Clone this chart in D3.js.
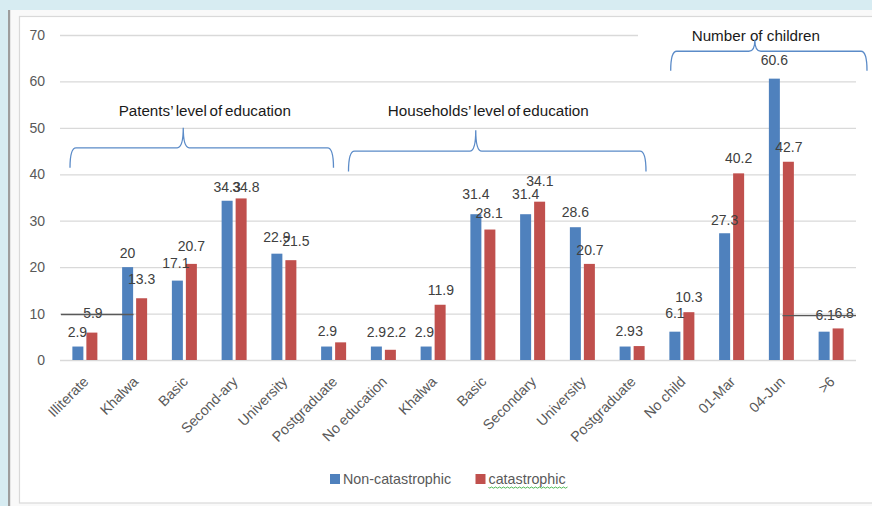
<!DOCTYPE html>
<html><head><meta charset="utf-8">
<script src="https://cdn.jsdelivr.net/npm/d3@7"></script>
<style>
html,body{margin:0;padding:0;background:#d7ecf2;}
svg{display:block;font-family:"Liberation Sans",Arial,sans-serif;}
</style></head>
<body>
<svg id="chart" width="872" height="506"></svg>
<script>
// ---- data ----
const categories = ["Illiterate","Khalwa","Basic","Second-ary","University","Postgraduate",
  "No education","Khalwa","Basic","Secondary","University","Postgraduate",
  "No child","01-Mar","04-Jun",">6"];
const seriesNames = ["Non-catastrophic","catastrophic"];
const nonCatastrophic = [2.9,20,17.1,34.3,22.9,2.9, 2.9,2.9,31.4,31.4,28.6,2.9, 6.1,27.3,60.6,6.1];
const catastrophic    = [5.9,13.3,20.7,34.8,21.5,3.8, 2.2,11.9,28.1,34.1,20.7,3, 10.3,40.2,42.7,6.8];
const nonCatLabels = ["2.9","20","17.1","34.3","22.9","2.9","2.9","2.9","31.4","31.4","28.6","2.9","6.1","27.3","60.6","6.1"];
const catLabels    = ["5.9","13.3","20.7","34.8","21.5","","2.2","11.9","28.1","34.1","20.7","3","10.3","40.2","42.7","6.8"];
const yTicks = [0,10,20,30,40,50,60,70];
const groupNames = ["Patents\u2019 level of education","Households\u2019 level of education","Number of children"];
const groupFrom = [0,6,12];
const groupTo = [5,11,15];

// ---- layout (label nudges, px) ----
const nonCatDx = [-0.5,0,-1.5,0,0,0.8,0,-1.7,0,0,0,0,0,0,0,1];
const nonCatDy = [14.5,14.5,18,14,17,15.5,14,14,20,20,15,15,18.5,13,18.5,17];
const catDx = [1,0,0,4.7,5,0,6,0.7,-0.8,0.3,0.6,0,0,0,0.5,6];
const catDy = [19.5,19.5,18,11.5,19.5,0,17.5,15,16.3,20.6,14,15,15.5,15,15,15.5];
const bracketLayout = [
  {x0:10, x1:-25, yb:41.4, yh:45.7, yt:50.0, tip:-18.5, tx:3, ty:53.8, ws:-1.5},
  {x0:-10, x1:-11, yb:40.6, yh:45.0, yt:49.5, tip:-21.5, tx:-9, ty:53.8, ws:-1.5},
  {x0:13.7, x1:11, yb:62.3, yh:66.5, yt:69.0, tip:-14, tx:-13, ty:69.8, ws:0}
];

const C = {blue:"#4f81bd", red:"#c0504d", grid:"#d9d9d9", tick:"#595959", label:"#404040", brace:"#5b8bc8"};

const svg = d3.select("#chart");
svg.append("rect").attr("x",0).attr("y",0).attr("width",872).attr("height",506).attr("fill","#d7ecf2");
svg.append("rect").attr("x",10).attr("y",10).attr("width",862).attr("height",496).attr("fill","#f9f9f9");
svg.append("rect").attr("x",8).attr("y",10).attr("width",2.2).attr("height",496).attr("fill","#9d9d9d");
svg.append("rect").attr("x",19.5).attr("y",16.5).attr("width",870).attr("height",486.5)
  .attr("fill","#ffffff").attr("stroke","#d9d9d9").attr("stroke-width",1.2);

const x = d3.scaleBand().domain(d3.range(categories.length)).range([60,856]);
const x1 = d3.scaleBand().domain(seriesNames).range([0,x.bandwidth()]).paddingInner(3/14).paddingOuter(0.884);
const y = d3.scaleLinear().domain([0,70]).range([360,35]);

const yAxis = d3.axisLeft(y).tickValues(yTicks).tickSize(-(856-60)).tickPadding(15);
const ga = svg.append("g").attr("transform","translate(60,0)").call(yAxis);
ga.select(".domain").remove();
ga.selectAll(".tick line").attr("stroke",C.grid).attr("stroke-width",1.3);
ga.selectAll(".tick text").attr("fill",C.tick).style("font-size","14px").style("font-family","Liberation Sans, Arial, sans-serif");

// white textbox of "Number of children" covering the top gridline
svg.append("rect").attr("x",x(groupFrom[2]) - 19).attr("y",26).attr("width",240).attr("height",16).attr("fill","#ffffff");

const series = [
  {name:seriesNames[0], vals:nonCatastrophic, labels:nonCatLabels, dx:nonCatDx, dy:nonCatDy, color:C.blue},
  {name:seriesNames[1], vals:catastrophic, labels:catLabels, dx:catDx, dy:catDy, color:C.red}
];

series.forEach(s=>{
  svg.append("g").selectAll("rect").data(s.vals).join("rect")
    .attr("x",(d,i)=>x(i)+x1(s.name))
    .attr("y",d=>y(d))
    .attr("width",x1.bandwidth())
    .attr("height",d=>y(0)-y(d))
    .attr("fill",s.color);
});

const gx = svg.append("g");
categories.forEach((c,i)=>{
  gx.append("text")
    .attr("transform",`translate(${x(i)+x.bandwidth()/2+1},${379}) rotate(-45)`)
    .attr("text-anchor","end").attr("dy","0.35em")
    .attr("fill",C.tick).style("font-size","14.3px").text(c);
});

series.forEach(s=>{
  svg.append("g").selectAll("text").data(s.vals).join("text")
    .attr("x",(d,i)=>x(i)+x1(s.name)+x1.bandwidth()/2+s.dx[i])
    .attr("y",(d,i)=>y(d)-s.dy[i])
    .attr("dy","0.35em").attr("text-anchor","middle")
    .attr("fill",C.label).style("font-size","14px")
    .text((d,i)=>s.labels[i]);
});

const strikes = [{v:9.8, from:0, to:1, a:1, b:-26}, {v:9.55, from:14, to:15, a:26, b:0}];
strikes.forEach(s=>{
  svg.append("line").attr("x1",x(s.from)+s.a).attr("x2",x(s.to)+x.bandwidth()+s.b)
    .attr("y1",y(s.v)).attr("y2",y(s.v)).attr("stroke","#595959").attr("stroke-width",1.4);
});

groupNames.forEach((g,i)=>{
  const L = bracketLayout[i];
  const x0 = x(groupFrom[i]) + L.x0;
  const x1e = x(groupTo[i]) + x.bandwidth() + L.x1;
  const xm = (x0+x1e)/2 + L.tip;
  const yb = y(L.yb), yh = y(L.yh), yt = y(L.yt);
  const r = 6;
  svg.append("text").attr("x",(x0+x1e)/2 + L.tx).attr("y",y(L.ty)).attr("dy","0.35em")
    .attr("text-anchor","middle").attr("fill","#1a1a1a").style("font-size","15.2px")
    .style("word-spacing",L.ws+"px").text(g);
  const p = d3.path();
  p.moveTo(x0,yb);
  p.quadraticCurveTo(x0,yh,x0+r,yh);
  p.lineTo(xm-r,yh);
  p.quadraticCurveTo(xm,yh,xm,yt);
  p.quadraticCurveTo(xm,yh,xm+r,yh);
  p.lineTo(x1e-r,yh);
  p.quadraticCurveTo(x1e,yh,x1e,yb);
  svg.append("path").attr("d",p.toString()).attr("fill","none").attr("stroke",C.brace).attr("stroke-width",1.3);
});

const lg = svg.append("g");
const legX = [330, 475.5];
series.forEach((s,i)=>{
  lg.append("rect").attr("x",legX[i]).attr("y",474).attr("width",10).attr("height",10).attr("fill",s.color);
  lg.append("text").attr("x",legX[i]+13).attr("y",479).attr("dy","0.35em").attr("fill",C.tick)
    .style("font-size","14.3px").text(s.name);
});
const sq = d3.path();
sq.moveTo(legX[1]+13,487);
for(let k=0;k<40;k++){ sq.lineTo(legX[1]+13+k*2+1, 487+(k%2?0:1.2)); }
lg.append("path").attr("d",sq.toString()).attr("fill","none").attr("stroke","#3cb043").attr("stroke-width",0.9);
</script>
</body></html>
